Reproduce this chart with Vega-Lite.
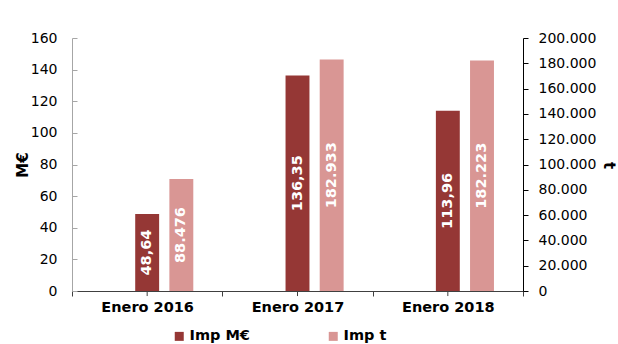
{
  "$schema": "https://vega.github.io/schema/vega-lite/v6.json",
  "width": 451,
  "height": 253,
  "autosize": {"type": "none"},
  "padding": {"left": 72, "top": 38, "right": 95, "bottom": 53},
  "background": "white",
  "config": {
    "view": {"stroke": null},
    "font": "DejaVu Sans",
    "locale": {"number": {"decimal": ",", "thousands": ".", "grouping": [3], "currency": ["", " €"]}},
    "axis": {"labelFont": "DejaVu Sans", "titleFont": "DejaVu Sans", "labelColor": "#000000", "titleColor": "#000000", "grid": false, "labelOverlap": false},
    "legend": {"labelFont": "DejaVu Sans"}
  },
  "data": {
    "values": [
      {"periodo": "Enero 2016", "serie": "Imp M€", "valor": 48.64},
      {"periodo": "Enero 2017", "serie": "Imp M€", "valor": 136.35},
      {"periodo": "Enero 2018", "serie": "Imp M€", "valor": 113.96},
      {"periodo": "Enero 2016", "serie": "Imp t", "valor": 88476},
      {"periodo": "Enero 2017", "serie": "Imp t", "valor": 182933},
      {"periodo": "Enero 2018", "serie": "Imp t", "valor": 182223}
    ]
  },
  "encoding": {
    "x": {
      "field": "periodo", "type": "nominal", "sort": null,
      "scale": {"paddingInner": 0, "paddingOuter": 0},
      "axis": {"title": null, "labelAngle": 0, "labelFontWeight": "bold", "labelFontSize": 14.5, "labelPadding": 4, "domainColor": "#404040", "tickColor": "#404040", "tickSize": 5, "tickBand": "extent"}
    }
  },
  "layer": [
    {
      "transform": [{"filter": "datum.serie === 'Imp M€'"}],
      "layer": [
        {
          "mark": {"type": "bar"},
          "encoding": {
            "xOffset": {
              "field": "serie", "type": "nominal",
              "scale": {"domain": ["_", "Imp M€", "Imp t"], "paddingInner": 0.3, "paddingOuter": 0.85}
            },
            "y": {
              "field": "valor", "type": "quantitative", "title": "M€",
              "scale": {"domain": [0, 160], "nice": false},
              "axis": {"orient": "left", "values": [0, 20, 40, 60, 80, 100, 120, 140, 160], "format": "d", "labelOverlap": false, "labelFontSize": 14, "labelPadding": 20, "tickSize": -5, "domainColor": "#a6a6a6", "tickColor": "#a6a6a6", "titleFontSize": 15, "titleFontWeight": "bold", "titlePadding": 0}
            },
            "color": {
              "field": "serie", "type": "nominal",
              "scale": {"domain": ["Imp M€", "Imp t"], "range": ["#953735", "#D99694"]},
              "legend": {"orient": "none", "legendX": 100, "legendY": 291, "direction": "horizontal", "title": null, "symbolType": "square", "symbolSize": 81, "symbolStrokeWidth": 0, "labelFontSize": 14.5, "labelFontWeight": "bold", "labelColor": "#000000", "columnPadding": 76, "labelOffset": 3, "padding": 0}
            }
          }
        },
        {
          "transform": [{"calculate": "datum.valor / 2", "as": "medio"}],
          "mark": {"type": "text", "angle": 270, "align": "center", "baseline": "middle", "color": "white", "fontWeight": "bold", "fontSize": 14.5},
          "encoding": {
            "xOffset": {"field": "serie", "type": "nominal"},
            "y": {
              "field": "medio", "type": "quantitative", "title": "M€",
              "axis": {"orient": "left", "values": [0, 20, 40, 60, 80, 100, 120, 140, 160], "format": "d", "labelOverlap": false, "labelFontSize": 14, "labelPadding": 20, "tickSize": -5, "domainColor": "#a6a6a6", "tickColor": "#a6a6a6", "titleFontSize": 15, "titleFontWeight": "bold", "titlePadding": 0}
            },
            "text": {"field": "valor", "type": "quantitative", "format": ",.2f"}
          }
        },
        {
          "mark": {"type": "rule", "color": "#404040", "strokeWidth": 1},
          "encoding": {
            "x": {"field": "periodo", "type": "nominal", "sort": null, "bandPosition": 0.5},
            "y": {
              "datum": 0, "title": "M€",
              "axis": {"orient": "left", "values": [0, 20, 40, 60, 80, 100, 120, 140, 160], "format": "d", "labelOverlap": false, "labelFontSize": 14, "labelPadding": 20, "tickSize": -5, "domainColor": "#a6a6a6", "tickColor": "#a6a6a6", "titleFontSize": 15, "titleFontWeight": "bold", "titlePadding": 0}
            },
            "y2": {"datum": -3.2}
          }
        }
      ]
    },
    {
      "transform": [{"filter": "datum.serie === 'Imp t'"}],
      "layer": [
        {
          "mark": {"type": "bar"},
          "encoding": {
            "xOffset": {"field": "serie", "type": "nominal"},
            "y": {
              "field": "valor", "type": "quantitative", "title": "t",
              "scale": {"domain": [0, 200000], "nice": false},
              "axis": {"orient": "right", "values": [0, 20000, 40000, 60000, 80000, 100000, 120000, 140000, 160000, 180000, 200000], "format": ",d", "labelOverlap": false, "labelFontSize": 14, "labelPadding": 10, "tickSize": 5, "domainColor": "#000000", "tickColor": "#000000", "titleFontSize": 15, "titleFontWeight": "bold", "titleAngle": 90, "titleX": 77, "titleY": 127}
            },
            "color": {
              "field": "serie", "type": "nominal",
              "scale": {"domain": ["Imp M€", "Imp t"], "range": ["#953735", "#D99694"]}
            }
          }
        },
        {
          "transform": [{"calculate": "datum.valor / 2", "as": "medio"}],
          "mark": {"type": "text", "angle": 270, "align": "center", "baseline": "middle", "color": "white", "fontWeight": "bold", "fontSize": 14.5},
          "encoding": {
            "xOffset": {"field": "serie", "type": "nominal"},
            "y": {
              "field": "medio", "type": "quantitative", "title": "t",
              "axis": {"orient": "right", "values": [0, 20000, 40000, 60000, 80000, 100000, 120000, 140000, 160000, 180000, 200000], "format": ",d", "labelOverlap": false, "labelFontSize": 14, "labelPadding": 10, "tickSize": 5, "domainColor": "#000000", "tickColor": "#000000", "titleFontSize": 15, "titleFontWeight": "bold", "titleAngle": 90, "titleX": 77, "titleY": 127}
            },
            "text": {"field": "valor", "type": "quantitative", "format": ",d"}
          }
        }
      ]
    }
  ],
  "resolve": {"scale": {"y": "independent"}}
}
